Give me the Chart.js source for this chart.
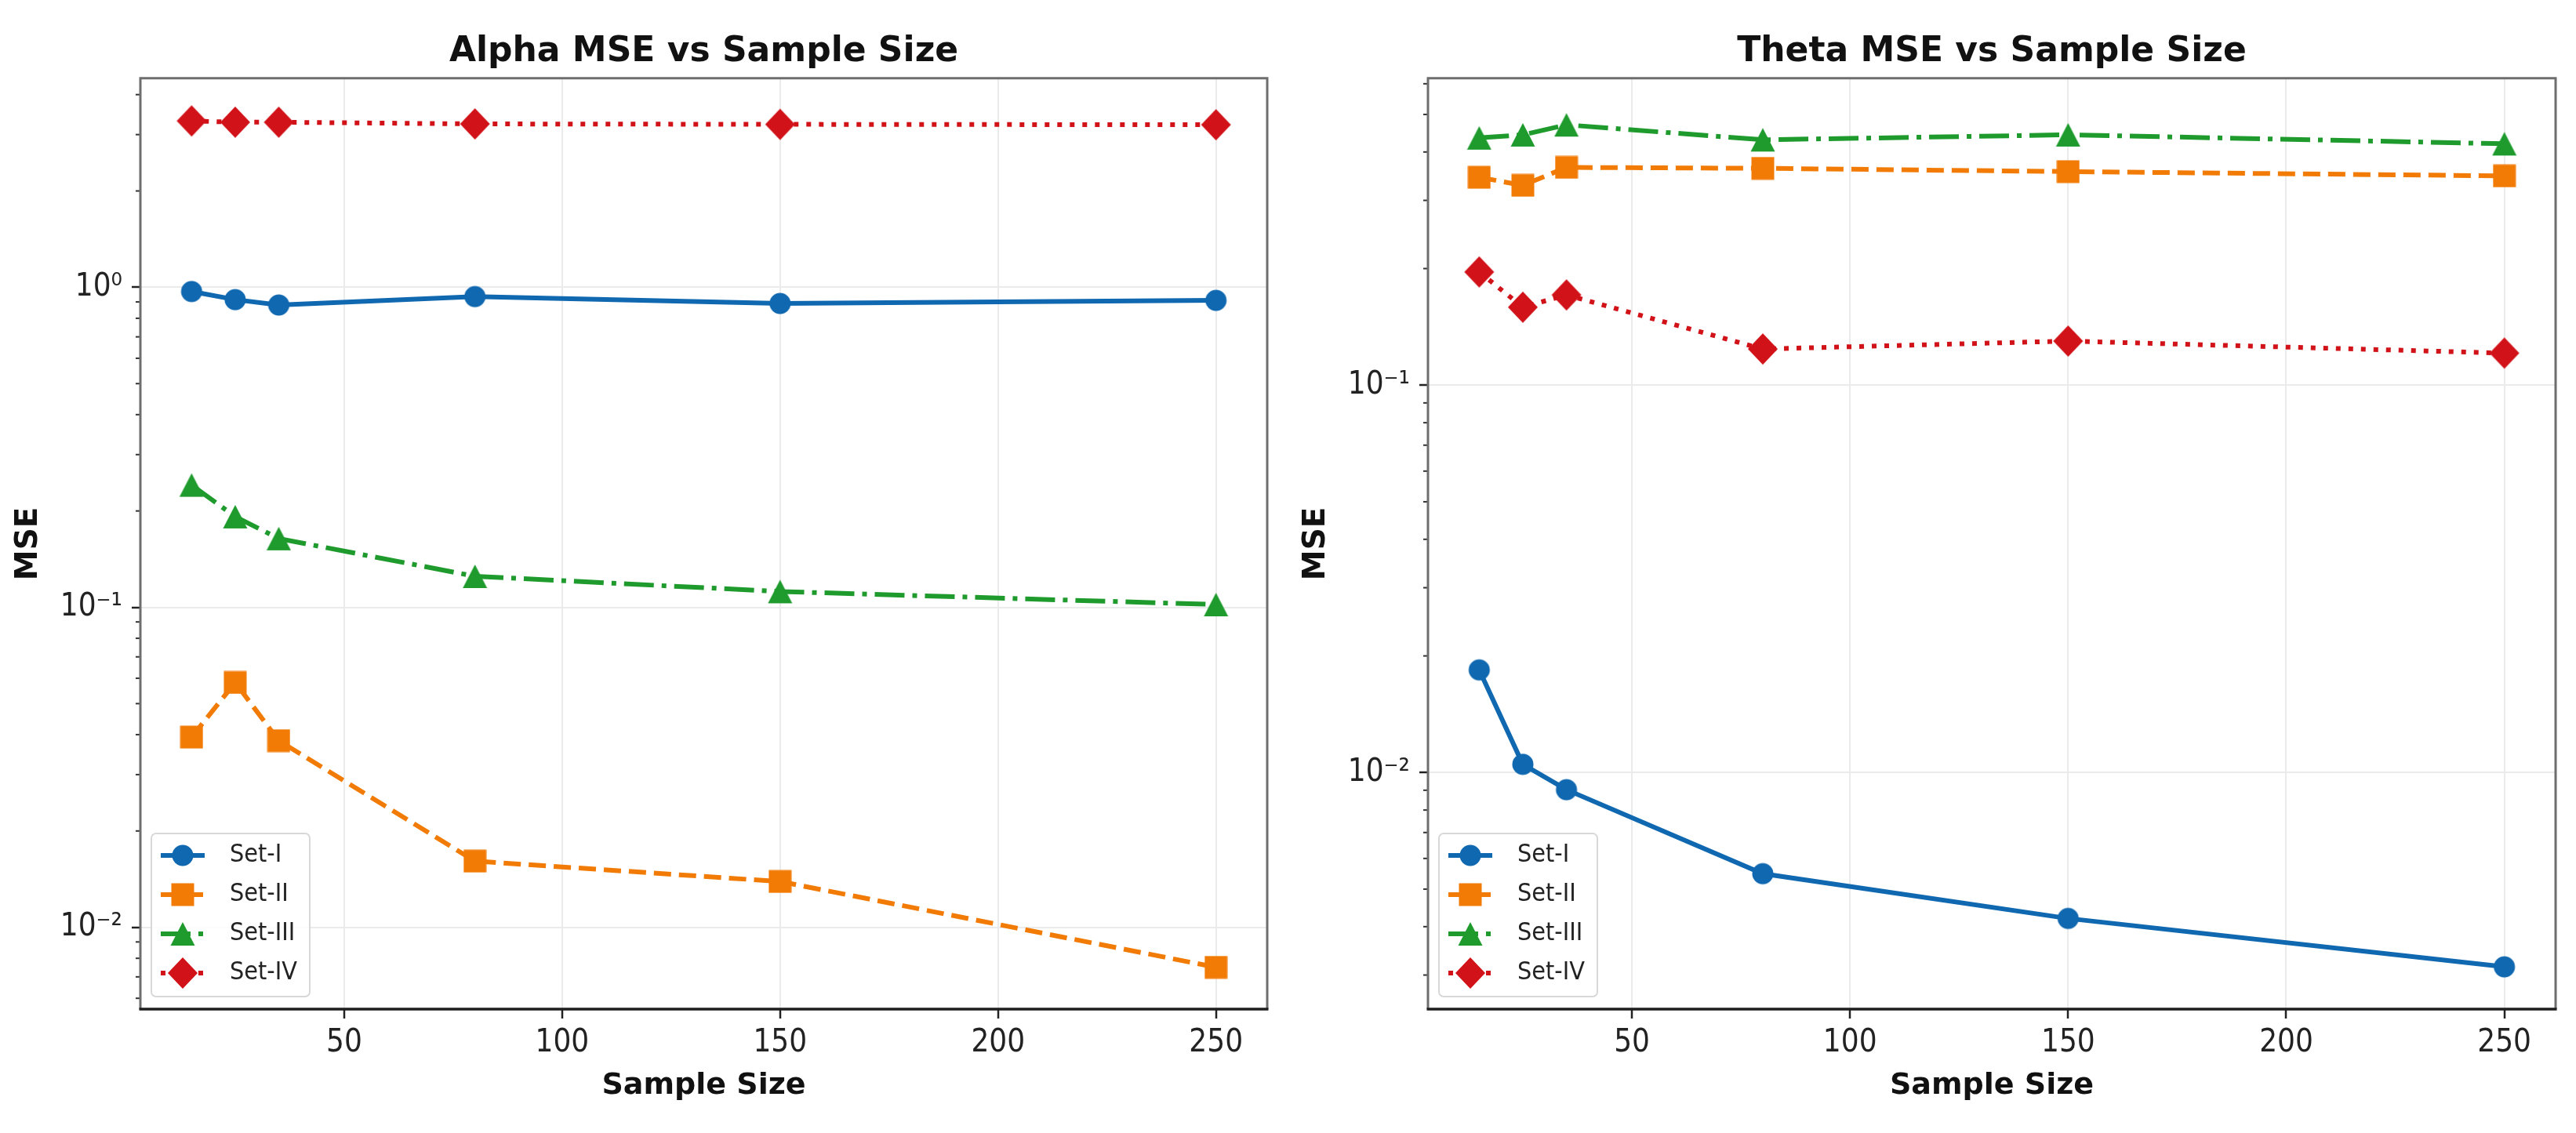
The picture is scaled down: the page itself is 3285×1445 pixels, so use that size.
<!DOCTYPE html>
<html>
<head>
<meta charset="utf-8">
<title>MSE vs Sample Size</title>
<script src="https://cdn.jsdelivr.net/npm/chart.js@4.4.1/dist/chart.umd.min.js"></script>
<style>
  html, body { margin: 0; padding: 0; background: #fff; }
  #wrap { position: relative; width: 3285px; height: 1445px; }
  .panel { position: absolute; top: 0; height: 1445px; }
</style>
</head>
<body>
<div id="wrap">
  <div class="panel" style="left:0;width:1642px"><canvas id="alphaChart" width="1642" height="1445"></canvas></div>
  <div class="panel" style="left:1642px;width:1643px"><canvas id="thetaChart" width="1643" height="1445"></canvas></div>
</div>
<script>
// data
const sampleSizes = [15, 25, 35, 80, 150, 250];
const setNames = ['Set-I', 'Set-II', 'Set-III', 'Set-IV'];
const xTickValues = [50, 100, 150, 200, 250];

// Alpha MSE
const alphaSetI   = [0.97, 0.915, 0.88, 0.935, 0.89, 0.91];
const alphaSetII  = [0.0393, 0.0582, 0.0383, 0.0161, 0.0139, 0.0075];
const alphaSetIII = [0.241, 0.192, 0.164, 0.125, 0.112, 0.102];
const alphaSetIV  = [3.31, 3.28, 3.28, 3.24, 3.23, 3.22];

// Theta MSE
const thetaSetI   = [0.0184, 0.0105, 0.00903, 0.00548, 0.0042, 0.00315];
const thetaSetII  = [0.344, 0.328, 0.365, 0.363, 0.356, 0.347];
const thetaSetIII = [0.435, 0.443, 0.47, 0.43, 0.443, 0.42];
const thetaSetIV  = [0.196, 0.159, 0.171, 0.124, 0.13, 0.121];

const BASE = "'DejaVu Sans', sans-serif";
const NARROW = "'DejaVu Sans Condensed', 'DejaVu Sans', sans-serif";
const GRID = '#ebebeb';

// marker images, matplotlib-like shapes
function makeMarker(shape, color) {
  const c = document.createElement('canvas');
  const g = c.getContext('2d');
  g.fillStyle = color;
  if (shape === 'circle') {
    c.width = 30; c.height = 30;
    g.fillStyle = color;
    g.beginPath(); g.arc(15, 15, 13.5, 0, Math.PI * 2); g.fill();
  } else if (shape === 'square') {
    c.width = 30; c.height = 30;
    g.fillStyle = color;
    g.fillRect(0.5, 0.5, 29, 29);
  } else if (shape === 'triangle') {
    c.width = 32; c.height = 32;
    g.fillStyle = color;
    g.beginPath(); g.moveTo(16, 1); g.lineTo(31.5, 31); g.lineTo(0.5, 31); g.closePath(); g.fill();
  } else {
    c.width = 40; c.height = 42;
    g.fillStyle = color;
    g.beginPath(); g.moveTo(20, 1); g.lineTo(39, 21); g.lineTo(20, 41); g.lineTo(1, 21); g.closePath(); g.fill();
  }
  return c;
}

const styles = [
  { color: '#1068b0', shape: 'circle',   dash: [] },
  { color: '#f27b06', shape: 'square',   dash: [22, 10] },
  { color: '#1f9b2e', shape: 'triangle', dash: [38, 10, 6, 10] },
  { color: '#d11218', shape: 'diamond',  dash: [6, 10] }
];
styles.forEach(s => { s.marker = makeMarker(s.shape, s.color); });

function isDecade(v) {
  const l = Math.log10(v);
  return Math.abs(l - Math.round(l)) < 1e-6;
}
const SUP = { '-': '\u207B', '0': '\u2070', '1': '\u00B9', '2': '\u00B2', '3': '\u00B3',
  '4': '\u2074', '5': '\u2075', '6': '\u2076', '7': '\u2077', '8': '\u2078', '9': '\u2079' };
function powLabel(v) {
  const e = String(Math.round(Math.log10(v)));
  return '10' + e.split('').map(ch => SUP[ch]).join('');
}

// spines, minor ticks and legend box
const framePlugin = {
  id: 'frameAndLegend',
  afterDraw(chart) {
    const { ctx, chartArea: a } = chart;
    const y = chart.scales.y;
    ctx.save();
    // minor ticks
    ctx.strokeStyle = '#333';
    ctx.lineWidth = 2;
    y.ticks.forEach(t => {
      if (isDecade(t.value)) return;
      const py = y.getPixelForValue(t.value);
      ctx.beginPath(); ctx.moveTo(a.left - 6, py); ctx.lineTo(a.left, py); ctx.stroke();
    });
    // spines
    ctx.lineWidth = 3;
    ctx.strokeStyle = '#6e6e6e';
    ctx.beginPath();
    ctx.moveTo(a.left, a.bottom); ctx.lineTo(a.left, a.top);
    ctx.lineTo(a.right, a.top); ctx.lineTo(a.right, a.bottom);
    ctx.stroke();
    ctx.strokeStyle = '#1e1e1e';
    ctx.lineWidth = 3.5;
    ctx.beginPath(); ctx.moveTo(a.left - 1.5, a.bottom); ctx.lineTo(a.right + 1.5, a.bottom); ctx.stroke();

    // legend
    const bx = a.left + 14, bw = 202, bh = 208, by = a.bottom - 16 - bh;
    ctx.fillStyle = 'rgba(255,255,255,0.85)';
    ctx.strokeStyle = '#d8d8d8';
    ctx.lineWidth = 2;
    ctx.beginPath();
    ctx.roundRect(bx, by, bw, bh, 6);
    ctx.fill(); ctx.stroke();
    chart.data.datasets.forEach((ds, i) => {
      const s = styles[i];
      const ry = by + 28 + i * 50;
      ctx.strokeStyle = s.color;
      ctx.lineWidth = 6;
      ctx.setLineDash(s.dash);
      ctx.lineCap = 'butt';
      ctx.beginPath(); ctx.moveTo(bx + 12, ry); ctx.lineTo(bx + 68, ry); ctx.stroke();
      ctx.setLineDash([]);
      ctx.drawImage(s.marker, bx + 40 - s.marker.width / 2, ry - s.marker.height / 2);
      ctx.fillStyle = '#222';
      ctx.font = '32px ' + NARROW;
      ctx.textBaseline = 'middle';
      ctx.textAlign = 'left';
      ctx.fillText(ds.label, bx + 100, ry);
    });
    ctx.restore();
  }
};

function makeConfig(title, series, yMin, yMax) {
  const datasets = setNames.map((name, i) => ({
    label: name,
    data: sampleSizes.map((x, j) => ({ x: x, y: series[i][j] })),
    borderColor: styles[i].color,
    backgroundColor: styles[i].color,
    borderWidth: 6,
    borderDash: styles[i].dash,
    borderCapStyle: 'butt',
    tension: 0,
    fill: false,
    pointStyle: styles[i].marker,
    pointRadius: 14
  }));
  return {
    type: 'line',
    data: { datasets: datasets },
    options: {
      responsive: false,
      animation: false,
      devicePixelRatio: 1,
      layout: { padding: { left: 0, right: 26, top: 0, bottom: 0 } },
      plugins: {
        legend: { display: false },
        tooltip: { enabled: false },
        title: {
          display: true,
          text: title,
          fullSize: false,
          color: '#111',
          font: { family: BASE, size: 44, weight: 'bold' },
          padding: { top: 40, bottom: 7 }
        }
      },
      scales: {
        x: {
          type: 'linear',
          min: 3.25,
          max: 261.75,
          afterBuildTicks: (scale) => { scale.ticks = xTickValues.map(v => ({ value: v })); },
          afterFit: (scale) => { scale.height = 158; },
          border: { display: false },
          grid: { color: GRID, lineWidth: 2, tickColor: '#222', tickLength: 12, tickWidth: 2.5 },
          ticks: { color: '#222', font: { family: NARROW, size: 40 }, padding: 8, maxRotation: 0, autoSkip: false },
          title: {
            display: true, text: 'Sample Size', color: '#111',
            font: { family: BASE, size: 38, weight: 'bold' },
            padding: { top: 0, bottom: 37 }
          }
        },
        y: {
          type: 'logarithmic',
          min: yMin,
          max: yMax,
          afterBuildTicks: (scale) => {
            const out = [];
            const lo = Math.floor(Math.log10(scale.min)), hi = Math.ceil(Math.log10(scale.max));
            for (let e = lo; e <= hi; e++) {
              for (let k = 1; k <= 9; k++) {
                const v = k * Math.pow(10, e);
                if (v >= scale.min && v <= scale.max) out.push({ value: v });
              }
            }
            scale.ticks = out;
          },
          afterFit: (scale) => { scale.width = 179; },
          border: { display: false },
          grid: {
            color: (c) => (c.tick && isDecade(c.tick.value)) ? GRID : 'rgba(0,0,0,0)',
            tickColor: (c) => (c.tick && isDecade(c.tick.value)) ? '#222' : 'rgba(0,0,0,0)',
            lineWidth: 2, tickLength: 11, tickWidth: 2.5
          },
          ticks: {
            color: '#222', font: { family: NARROW, size: 40 }, padding: 12, autoSkip: false,
            callback: (v) => isDecade(v) ? powLabel(v) : ''
          },
          title: {
            display: true, text: 'MSE', color: '#111',
            font: { family: BASE, size: 39, weight: 'bold' },
            padding: { top: 13, bottom: 0 }
          }
        }
      }
    },
    plugins: [framePlugin]
  };
}

new Chart(document.getElementById('alphaChart'),
  makeConfig('Alpha MSE vs Sample Size', [alphaSetI, alphaSetII, alphaSetIII, alphaSetIV], 0.00555, 4.5));
new Chart(document.getElementById('thetaChart'),
  makeConfig('Theta MSE vs Sample Size', [thetaSetI, thetaSetII, thetaSetIII, thetaSetIV], 0.00245, 0.62));
</script>
</body>
</html>
